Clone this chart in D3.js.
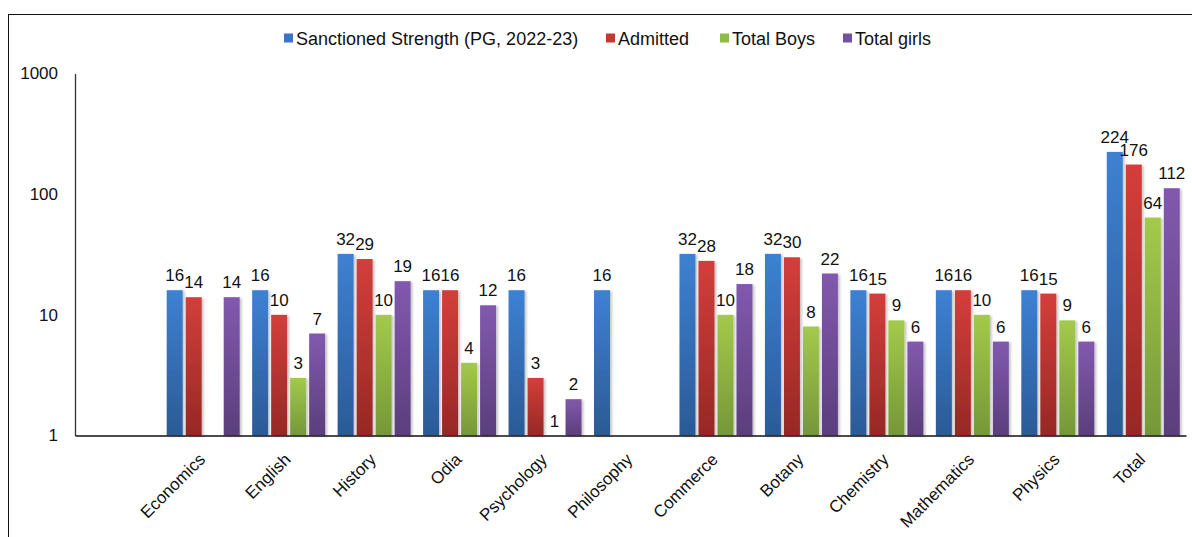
<!DOCTYPE html>
<html>
<head>
<meta charset="utf-8">
<script src="https://cdn.jsdelivr.net/npm/d3@7"></script>
<style>
  html, body { margin: 0; padding: 0; background: #fff; }
  svg { display: block; font-family: "Liberation Sans", Arial, sans-serif; }
</style>
</head>
<body>
<svg id="chart" width="1192" height="537"></svg>
<script>
// ---- data ----
const categories = ["", "Economics", "English", "History", "Odia", "Psychology", "Philosophy",
  "Commerce", "Botany", "Chemistry", "Mathematics", "Physics", "Total"];
const seriesNames = ["Sanctioned Strength (PG, 2022-23)", "Admitted", "Total Boys", "Total girls"];
const sanctioned = [null, 16, 16, 32, 16, 16, 16, 32, 32, 16, 16, 16, 224];
const admitted   = [null, 14, 10, 29, 16, 3, null, 28, 30, 15, 16, 15, 176];
const boys       = [null, null, 3, 10, 4, 1, null, 10, 8, 9, 10, 9, 64];
const girls      = [null, 14, 7, 19, 12, 2, null, 18, 22, 6, 6, 6, 112];
const yTicks = [1, 10, 100, 1000];

const seriesValues = [sanctioned, admitted, boys, girls];
const gradStops = [
  ["#3d81d3", "#2b5a96"],
  ["#d43e3b", "#962825"],
  ["#a3ca4b", "#759738"],
  ["#8259ae", "#5b3e7c"]
];
const legendColors = ["#3b74c2", "#c2392f", "#8fbb40", "#7151a1"];

const svg = d3.select("#chart");
const FONT = 17;

// frame
svg.append("rect").attr("x", 8.5).attr("y", 14.5).attr("width", 1200).attr("height", 600)
  .attr("fill", "none").attr("stroke", "#111").attr("stroke-width", 1);

const defs = svg.append("defs");
gradStops.forEach((g, i) => {
  const lg = defs.append("linearGradient").attr("id", "g" + i)
    .attr("x1", 0).attr("y1", 0).attr("x2", 0).attr("y2", 1);
  lg.append("stop").attr("offset", "0%").attr("stop-color", g[0]);
  lg.append("stop").attr("offset", "100%").attr("stop-color", g[1]);
});
const f = defs.append("filter").attr("id", "shadow").attr("x", "-20%").attr("y", "-5%")
  .attr("width", "160%").attr("height", "110%");
f.append("feDropShadow").attr("dx", 2).attr("dy", 1).attr("stdDeviation", 1.2)
  .attr("flood-color", "#000").attr("flood-opacity", 0.22);

// scales
const x0 = d3.scaleBand().domain(categories.map((c, i) => i)).range([75, 1186]).paddingInner(0).paddingOuter(0);
const x1 = d3.scaleBand().domain(d3.range(4)).range([0, 73]).paddingInner(3 / 19).paddingOuter(0);
const groupOffset = (x0.bandwidth() - 73) / 2;
const y = d3.scaleLog().domain([1, 1000]).range([435.5, 73.5]);

// bars
const rows = [];
categories.forEach((c, ci) => {
  seriesValues.forEach((vals, si) => {
    if (vals[ci] != null) rows.push({ ci, si, v: vals[ci] });
  });
});

const barG = svg.append("g");
barG.selectAll("rect").data(rows).join("rect")
  .attr("x", d => x0(d.ci) + groupOffset + x1(d.si))
  .attr("y", d => y(d.v))
  .attr("width", x1.bandwidth())
  .attr("height", d => y(1) - y(d.v))
  .attr("fill", d => `url(#g${d.si})`)
  .attr("filter", "url(#shadow)");

// data labels
svg.append("g").selectAll("text").data(rows).join("text")
  .attr("x", d => x0(d.ci) + groupOffset + x1(d.si) + x1.bandwidth() / 2)
  .attr("y", d => y(d.v) - 9)
  .attr("text-anchor", "middle")
  .attr("font-size", FONT)
  .attr("fill", "#111")
  .text(d => d.v);

// y axis
const yAxis = svg.append("g").attr("transform", "translate(75,0)")
  .call(d3.axisLeft(y).tickValues(yTicks).tickFormat(d3.format("d")).tickSize(0).tickPadding(17));
yAxis.select(".domain").attr("stroke", "#333").attr("stroke-width", 1.3);
yAxis.selectAll("text").attr("font-size", FONT).attr("fill", "#111")
  .attr("font-family", "'Liberation Sans', Arial, sans-serif");

// x axis
const xAxis = svg.append("g").attr("transform", "translate(0,435.5)")
  .call(d3.axisBottom(x0).tickSize(0).tickFormat(i => categories[i]));
xAxis.select(".domain").attr("stroke", "#111").attr("stroke-width", 1.5);
xAxis.selectAll("text")
  .attr("font-size", FONT).attr("fill", "#111")
  .attr("font-family", "'Liberation Sans', Arial, sans-serif")
  .attr("text-anchor", "end")
  .attr("dy", 0).attr("y", 0)
  .attr("transform", "translate(3,25) rotate(-45)");

// legend
const legendX = [284, 606, 720, 843];
const lg = svg.append("g");
seriesNames.forEach((n, i) => {
  lg.append("rect").attr("x", legendX[i]).attr("y", 33.5).attr("width", 9).attr("height", 9)
    .attr("fill", legendColors[i]);
  lg.append("text").attr("x", legendX[i] + 12).attr("y", 44.5)
    .attr("font-size", 18).attr("fill", "#111").text(n);
});
</script>
</body>
</html>
